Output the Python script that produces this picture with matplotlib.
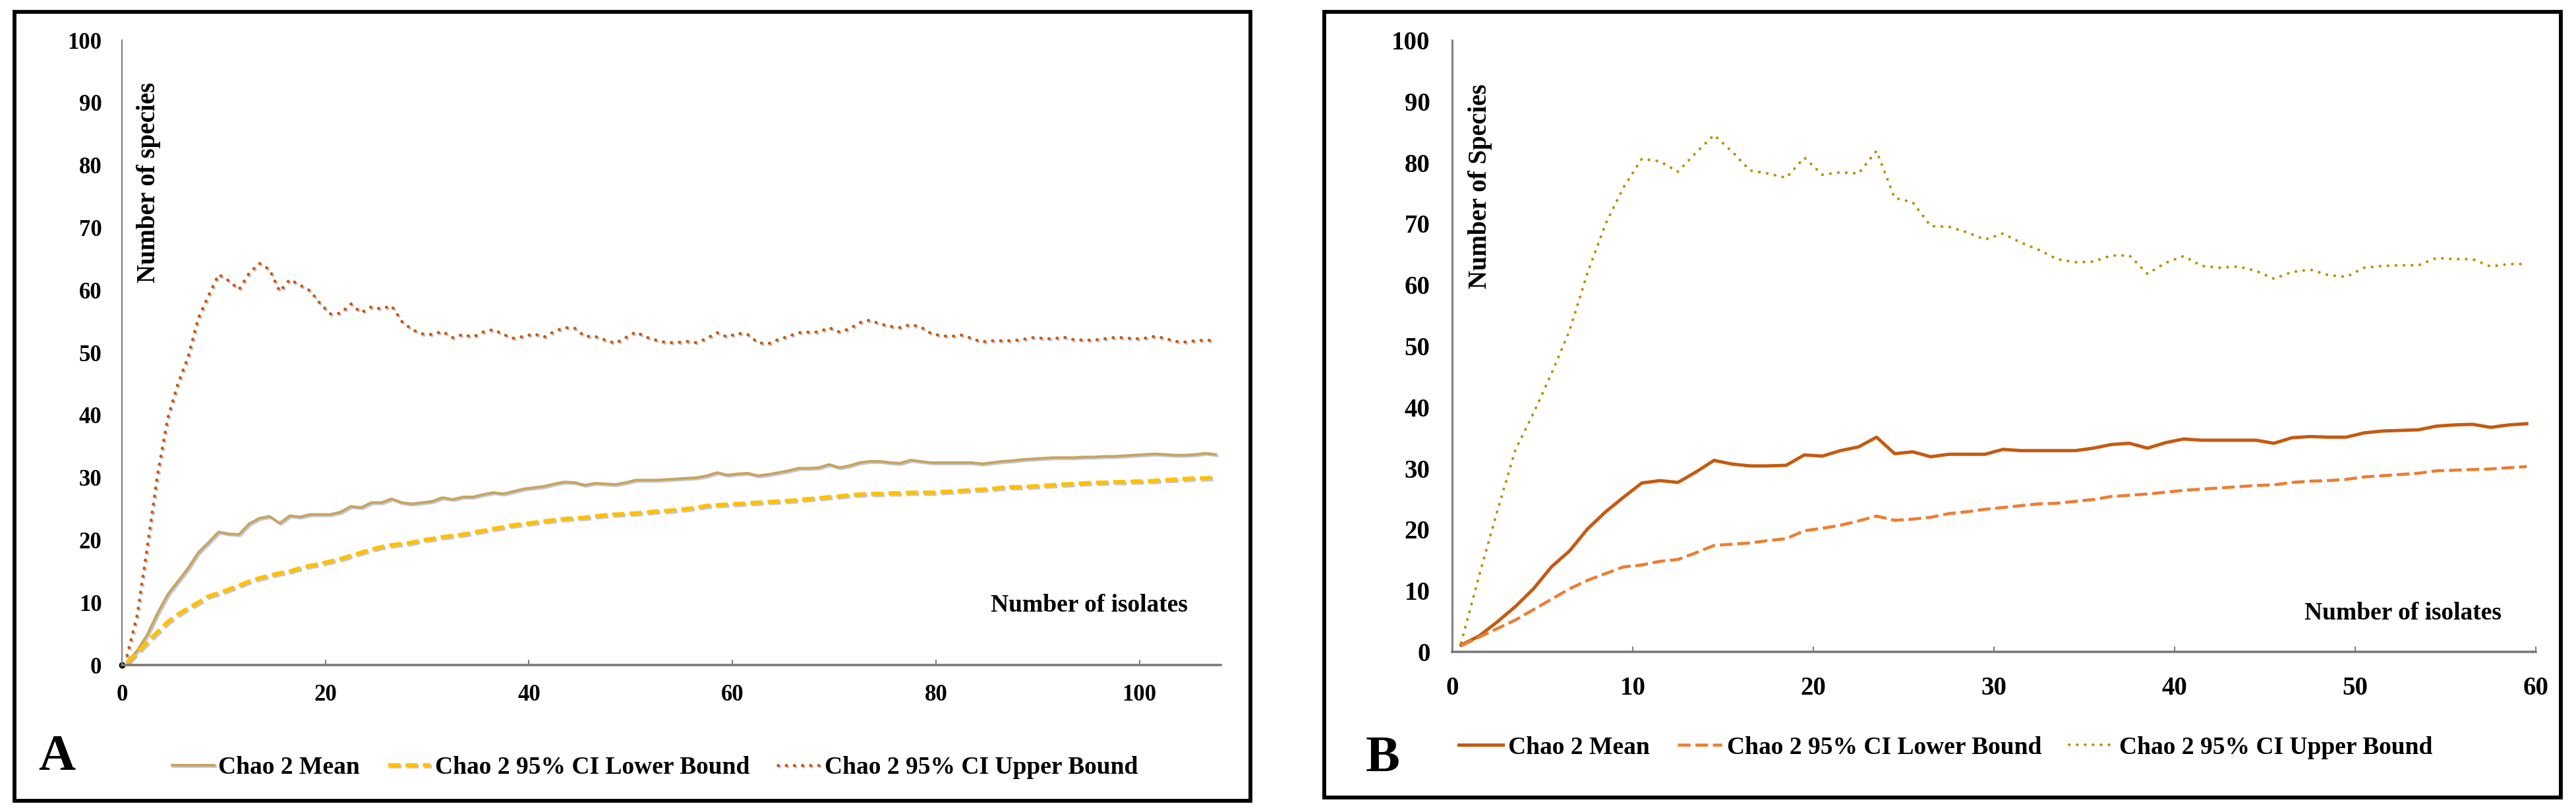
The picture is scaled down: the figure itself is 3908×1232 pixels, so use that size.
import numpy as np
import matplotlib
matplotlib.use("Agg")
import matplotlib.pyplot as plt
import matplotlib.patheffects as pe
from matplotlib.patches import Rectangle

plt.rcParams['font.family'] = ['Liberation Serif', 'DejaVu Serif']
plt.rcParams['font.weight'] = 'bold'

# ---- panel A data (one value per isolate, plotted at category centres) ----
mean_a = [0.5, 2.3, 4.9, 8.3, 11.3, 13.4, 15.5, 18.0, 19.6, 21.3,
          21.0, 20.9, 22.6, 23.5, 23.8, 22.7, 23.9, 23.7, 24.1, 24.1,
          24.1, 24.5, 25.4, 25.2, 26.0, 26.0, 26.6, 26.0, 25.8, 26.0,
          26.2, 26.8, 26.5, 26.9, 26.9, 27.3, 27.6, 27.4, 27.8, 28.2,
          28.4, 28.6, 29.0, 29.3, 29.2, 28.8, 29.1, 29.0, 28.9, 29.2,
          29.6, 29.6, 29.6, 29.7, 29.8, 29.9, 30.0, 30.3, 30.8, 30.4,
          30.6, 30.7, 30.3, 30.5, 30.8, 31.1, 31.5, 31.5, 31.6, 32.1,
          31.6, 31.9, 32.4, 32.6, 32.6, 32.4, 32.3, 32.8, 32.6, 32.4,
          32.4, 32.4, 32.4, 32.4, 32.2, 32.4, 32.6, 32.7, 32.9, 33.0,
          33.1, 33.2, 33.2, 33.2, 33.3, 33.3, 33.4, 33.4, 33.5, 33.6,
          33.7, 33.8, 33.7, 33.6, 33.6, 33.7, 33.9, 33.7]
lower_a = [0.3, 2.0, 3.7, 5.3, 6.9, 8.1, 9.1, 10.0, 11.0, 11.5,
           12.1, 12.7, 13.4, 13.9, 14.3, 14.7, 15.0, 15.5, 15.9, 16.2,
           16.6, 17.0, 17.5, 18.0, 18.5, 18.9, 19.2, 19.4, 19.6, 20.0,
           20.2, 20.5, 20.7, 20.9, 21.2, 21.5, 21.8, 22.1, 22.4, 22.6,
           22.8, 23.0, 23.2, 23.4, 23.5, 23.6, 23.8, 24.0, 24.1, 24.2,
           24.3, 24.4, 24.6, 24.7, 24.8, 25.0, 25.2, 25.5, 25.6, 25.7,
           25.8, 25.9, 26.0, 26.1, 26.2, 26.3, 26.4, 26.6, 26.7, 26.9,
           27.0, 27.2, 27.3, 27.4, 27.4, 27.5, 27.5, 27.6, 27.6, 27.6,
           27.7, 27.8, 27.9, 28.0, 28.1, 28.2, 28.4, 28.5, 28.5, 28.6,
           28.7, 28.8, 28.9, 29.0, 29.1, 29.2, 29.2, 29.3, 29.3, 29.4,
           29.4, 29.5, 29.6, 29.7, 29.8, 29.9, 29.9, 30.0]
upper_a = [1.5, 8.0, 19.0, 30.5, 39.5, 45.0, 49.3, 55.5, 59.1, 62.5,
           61.5, 60.1, 62.7, 64.3, 63.3, 59.8, 61.7, 60.8, 59.9, 57.8,
           56.2, 56.3, 57.8, 56.4, 57.3, 57.0, 57.5, 55.0, 53.7, 53.0,
           52.9, 53.4, 52.4, 52.9, 52.5, 53.3, 53.7, 52.9, 52.3, 52.6,
           53.0, 52.5, 53.4, 54.0, 53.9, 52.6, 52.6, 52.0, 51.5, 52.4,
           53.3, 52.5, 52.0, 51.6, 51.6, 51.8, 51.6, 52.3, 53.2, 52.5,
           53.1, 52.9, 51.6, 51.4, 52.1, 52.6, 53.2, 53.3, 53.3, 54.0,
           53.3, 53.8, 54.8, 55.2, 54.6, 54.2, 54.0, 54.5, 54.1, 53.1,
           52.7, 52.6, 52.8, 52.3, 51.7, 51.9, 51.9, 51.9, 52.1, 52.4,
           52.3, 52.2, 52.5, 52.1, 52.0, 52.0, 52.2, 52.4, 52.4, 52.2,
           52.3, 52.6, 52.3, 51.8, 51.7, 51.9, 52.0, 51.9]

# ---- panel B data ----
mean_b = [1.1, 2.6, 4.9, 7.4, 10.3, 13.9, 16.5, 20.1, 22.9, 25.3,
          27.6, 28.0, 27.7, 29.4, 31.3, 30.7, 30.4, 30.4, 30.5, 32.2,
          32.0, 32.9, 33.5, 35.1, 32.4, 32.7, 31.9, 32.3, 32.3, 32.3,
          33.1, 32.9, 32.9, 32.9, 32.9, 33.3, 33.9, 34.1, 33.3, 34.2,
          34.8, 34.6, 34.6, 34.6, 34.6, 34.1, 35.0, 35.2, 35.1, 35.1,
          35.8, 36.1, 36.2, 36.3, 36.9, 37.1, 37.2, 36.7, 37.1, 37.3]
lower_b = [1.0, 2.4, 3.8, 5.2, 6.9, 8.6, 10.3, 11.7, 12.8, 13.9,
           14.2, 14.8, 15.1, 16.2, 17.4, 17.6, 17.8, 18.2, 18.5, 19.8,
           20.2, 20.7, 21.4, 22.2, 21.5, 21.7, 22.0, 22.6, 22.9, 23.3,
           23.6, 23.9, 24.2, 24.3, 24.6, 24.9, 25.4, 25.6, 25.8, 26.1,
           26.4, 26.6, 26.8, 27.0, 27.2, 27.3, 27.7, 27.9, 28.0, 28.2,
           28.6, 28.8, 29.0, 29.2, 29.6, 29.7, 29.8, 29.9, 30.1, 30.3]
upper_b = [1.5, 12.5, 23.0, 33.0, 39.0, 45.5, 52.5, 62.0, 70.0, 76.0,
           80.6, 80.2, 78.5, 81.6, 84.5, 81.8, 78.7, 78.2, 77.5, 80.8,
           78.0, 78.4, 78.2, 81.9, 74.2, 73.5, 69.6, 69.5, 68.6, 67.4,
           68.4, 66.9, 65.7, 64.2, 63.7, 63.8, 64.8, 64.8, 61.8, 63.6,
           64.7, 63.1, 62.8, 63.0, 62.3, 61.0, 62.1, 62.5, 61.6, 61.3,
           62.8, 63.1, 63.2, 63.2, 64.4, 64.2, 64.2, 63.0, 63.4, 63.4]

labels = ['Chao 2 Mean', 'Chao 2 95% CI Lower Bound', 'Chao 2 95% CI Upper Bound']

x_a = np.arange(len(mean_a)) + 0.5
x_b = np.arange(len(mean_b)) + 0.5

W, H = 3908, 1232
fig = plt.figure(figsize=(W / 100, H / 100), dpi=100)

shadow = [pe.SimpleLineShadow(offset=(1.5, -1.5), shadow_color='#8080a0', alpha=0.45), pe.Normal()]


def frac(px, py):
    return px / W, 1 - py / H


def style_axes(ax, xmax, xstep, fs, xpad, ypad):
    ax.set_xlim(0, xmax)
    ax.set_ylim(0, 100)
    ax.set_xticks(np.arange(0, xmax + 0.1, xstep))
    ax.set_yticks(np.arange(0, 101, 10))
    for s in ['top', 'right']:
        ax.spines[s].set_visible(False)
    ax.spines['left'].set_color('#808080')
    ax.spines['left'].set_linewidth(1.6)
    ax.spines['bottom'].set_color('#7a7a7a')
    ax.spines['bottom'].set_linewidth(2.6)
    ax.tick_params(axis='x', direction='in', length=6, width=1.5, color='#808080',
                   labelsize=fs, pad=xpad)
    ax.tick_params(axis='y', length=0, labelsize=fs, pad=ypad)
    for t in ax.get_xticklabels() + ax.get_yticklabels():
        t.set_fontweight('bold')


# ---------------- panel A ----------------
axA = fig.add_axes([185 / W, 1 - 1009 / H, (1852 - 185) / W, (1009 - 61) / H])
axA.plot(x_a, upper_a, color='#C55A11', lw=3.4, linestyle=(0, (0.1, 2.5)),
         dash_capstyle='round', path_effects=shadow, label=labels[2])
axA.plot(x_a, mean_a, color='#C6A55C', lw=2.8, path_effects=shadow, label=labels[0])
axA.plot(x_a, lower_a, color='#FFC000', lw=4.4, linestyle=(0, (3.0, 1.3)),
         path_effects=shadow, label=labels[1])
axA.plot([0], [0], 'o', color='black', ms=6, clip_on=False)
style_axes(axA, 108, 20, 25, 21, 22)

hA, lA = axA.get_legend_handles_labels()
orderA = [1, 2, 0]
axA.legend([hA[i] for i in orderA], [lA[i] for i in orderA], loc='center left',
           bbox_to_anchor=frac(242, 1165), bbox_transform=fig.transFigure, ncol=3,
           frameon=False, borderpad=0, handlelength=1.7, handletextpad=0.18,
           columnspacing=1.15, prop={'size': 27, 'weight': 'bold'})

fig.text(*frac(226, 277), 'Number of species', rotation=90, ha='center', va='center',
         fontsize=28, fontweight='bold')
fig.text(*frac(1652, 919), 'Number of isolates', ha='center', va='center',
         fontsize=27, fontweight='bold')
fig.text(*frac(86, 1150), 'A', ha='center', va='center', fontsize=56, fontweight='bold')

# ---------------- panel B ----------------
axB = fig.add_axes([2203 / W, 1 - 989 / H, (3847 - 2203) / W, (989 - 61) / H])
axB.plot(x_b, upper_b, color='#BF9000', lw=3.0, linestyle=(0, (0.1, 2.8)),
         dash_capstyle='round', label=labels[2])
axB.plot(x_b, mean_b, color='#C55A11', lw=3.6, label=labels[0])
axB.plot(x_b, lower_b, color='#ED7D31', lw=3.3, linestyle=(0, (4.2, 1.6)), label=labels[1])
style_axes(axB, 60, 10, 28, 27, 24)
axB.spines['left'].set_linewidth(2.2)

hB, lB = axB.get_legend_handles_labels()
axB.legend([hB[i] for i in orderA], [lB[i] for i in orderA], loc='center left',
           bbox_to_anchor=frac(2194, 1134), bbox_transform=fig.transFigure, ncol=3,
           frameon=False, borderpad=0, handlelength=1.8, handletextpad=0.22,
           columnspacing=1.1, prop={'size': 27, 'weight': 'bold'})

fig.text(*frac(2245, 283), 'Number of Species', rotation=90, ha='center', va='center',
         fontsize=28, fontweight='bold')
fig.text(*frac(3645, 931), 'Number of isolates', ha='center', va='center',
         fontsize=27, fontweight='bold')
fig.text(*frac(2098, 1152), 'B', ha='center', va='center', fontsize=56, fontweight='bold')

# panel frames
for x0, y0, x1, y1 in [(22, 18, 1897, 1215), (2009, 18, 3885, 1210)]:
    fx0, fy1 = frac(x0, y0)
    fx1, fy0 = frac(x1, y1)
    fig.add_artist(Rectangle((fx0, fy0), fx1 - fx0, fy1 - fy0, transform=fig.transFigure,
                             fill=False, edgecolor='black', lw=4.2))

fig.savefig('out.png', dpi=100, facecolor='white')
